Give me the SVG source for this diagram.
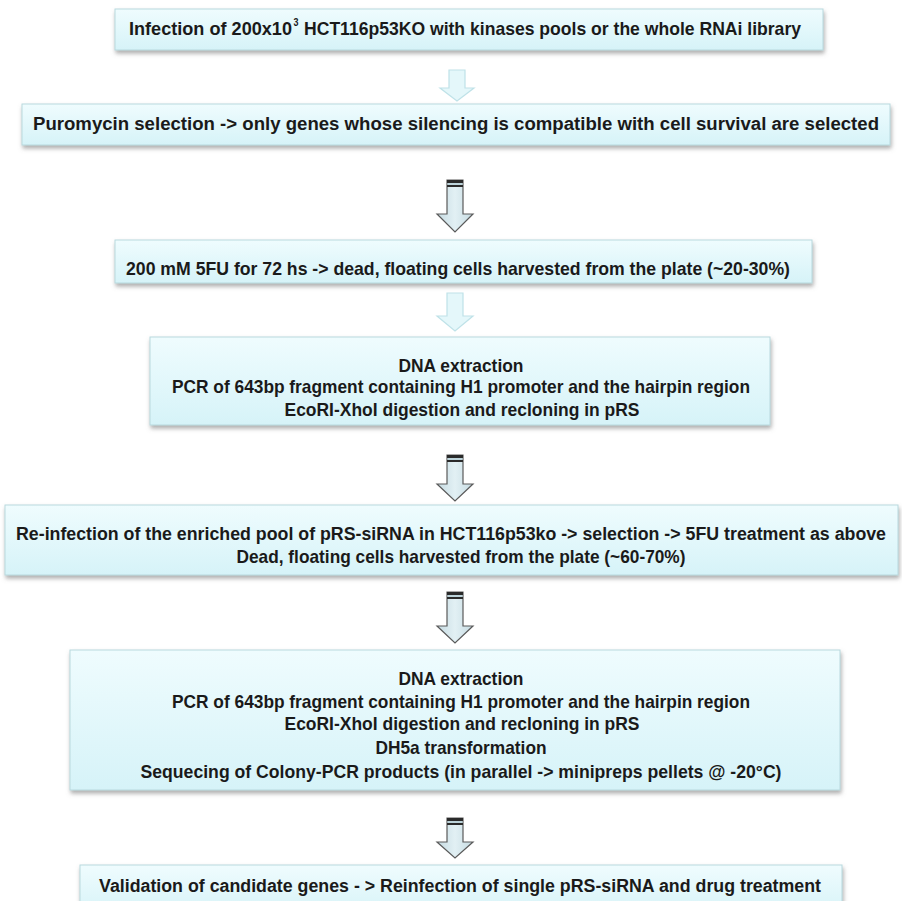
<svg xmlns="http://www.w3.org/2000/svg" width="902" height="901" viewBox="0 0 902 901">
<defs>
<linearGradient id="boxg" x1="0" y1="0" x2="0" y2="1">
<stop offset="0" stop-color="#effcfe"/>
<stop offset="1" stop-color="#d6f3f8"/>
</linearGradient>
<linearGradient id="arrd" x1="0" y1="0" x2="1" y2="0">
<stop offset="0" stop-color="#c6dbe2"/>
<stop offset="0.5" stop-color="#e2f0f4"/>
<stop offset="1" stop-color="#c6dbe2"/>
</linearGradient>
<filter id="sh" x="-5%" y="-20%" width="110%" height="160%">
<feDropShadow dx="1" dy="3" stdDeviation="2" flood-color="#777" flood-opacity="0.6"/>
</filter>
</defs>
<style>
.box{fill:url(#boxg);stroke:#b9d9de;stroke-width:1;filter:url(#sh)}
text{font-family:"Liberation Sans",Arial,sans-serif;font-weight:bold;font-size:19px;fill:#1a1a1a;text-anchor:middle}
text.long{font-size:18px}
text.st{text-anchor:start}
text.sup{font-size:10px;text-anchor:start}
.pale{fill:#e4f7fa;stroke:#bfe2e8;stroke-width:1.2}
.dark{fill:url(#arrd);stroke:#5a5a5a;stroke-width:1.2}
.cap{fill:#2a2a2a}
.capl{fill:#bcd3da}
</style>

<g id="connectors">
<path class="pale" d="M449,70 H465 V88 H474 L457,101 L440,88 H449 Z"/>
<g>
<path class="dark" d="M447,180 H463 V214 H473 L455,232 L437,214 H447 Z"/>
<rect class="cap" x="447" y="180" width="16" height="3"/>
<rect class="capl" x="447.6" y="183" width="14.8" height="2"/>
<rect class="cap" x="447" y="185" width="16" height="2"/>
</g>
<path class="pale" d="M447,293 H463 V316 H473 L455,331 L437,316 H447 Z"/>
<g>
<path class="dark" d="M447,455 H463 V484 H473 L455,501 L437,484 H447 Z"/>
<rect class="cap" x="447" y="455" width="16" height="3"/>
<rect class="capl" x="447.6" y="458" width="14.8" height="2"/>
<rect class="cap" x="447" y="460" width="16" height="2"/>
</g>
<g>
<path class="dark" d="M447,592 H463 V626 H473 L455,643 L437,626 H447 Z"/>
<rect class="cap" x="447" y="592" width="16" height="3"/>
<rect class="capl" x="447.6" y="595" width="14.8" height="2"/>
<rect class="cap" x="447" y="597" width="16" height="2"/>
</g>
<g>
<path class="dark" d="M447,818 H463 V842 H473 L455,858 L437,842 H447 Z"/>
<rect class="cap" x="447" y="818" width="16" height="3"/>
<rect class="capl" x="447.6" y="821" width="14.8" height="2"/>
<rect class="cap" x="447" y="823" width="16" height="2"/>
</g>
</g>

<g id="n1">
<rect class="box" x="115" y="9" width="708" height="41"/>
<text class="st" x="129" y="35" textLength="163" lengthAdjust="spacingAndGlyphs">Infection  of 200x10</text>
<text class="sup" x="293.5" y="26" textLength="5" lengthAdjust="spacingAndGlyphs">3</text>
<text class="st" x="304" y="35" textLength="497" lengthAdjust="spacingAndGlyphs">HCT116p53KO with kinases pools or the whole RNAi library</text>
</g>

<g id="n2">
<rect class="box" x="22" y="104" width="868" height="41"/>
<text class="long" x="456" y="130" textLength="846" lengthAdjust="spacingAndGlyphs">Puromycin selection -&gt; only genes whose silencing is compatible with cell survival are selected</text>
</g>

<g id="n3">
<rect class="box" x="115" y="240" width="697" height="43"/>
<text x="458" y="275" textLength="664" lengthAdjust="spacingAndGlyphs">200 mM 5FU for 72 hs -&gt; dead, floating cells harvested from the plate (~20-30%)</text>
</g>

<g id="n4">
<rect class="box" x="150" y="337" width="620" height="88"/>
<text x="461" y="372" textLength="125" lengthAdjust="spacingAndGlyphs">DNA extraction</text>
<text x="461" y="393" textLength="578" lengthAdjust="spacingAndGlyphs">PCR of 643bp fragment containing H1 promoter and the hairpin region</text>
<text x="462" y="416" textLength="355" lengthAdjust="spacingAndGlyphs">EcoRI-XhoI digestion and recloning in pRS</text>
</g>

<g id="n5">
<rect class="box" x="5" y="505" width="893" height="70"/>
<text class="long" x="451" y="540" textLength="870" lengthAdjust="spacingAndGlyphs">Re-infection of the enriched pool of pRS-siRNA in HCT116p53ko -&gt; selection -&gt; 5FU treatment as above</text>
<text x="461" y="563" textLength="449" lengthAdjust="spacingAndGlyphs">Dead, floating cells harvested from the plate (~60-70%)</text>
</g>

<g id="n6">
<rect class="box" x="70" y="650" width="770" height="140"/>
<text x="461" y="685" textLength="125" lengthAdjust="spacingAndGlyphs">DNA extraction</text>
<text x="461" y="708" textLength="578" lengthAdjust="spacingAndGlyphs">PCR of 643bp fragment containing H1 promoter and the hairpin region</text>
<text x="462" y="730" textLength="355" lengthAdjust="spacingAndGlyphs">EcoRI-XhoI digestion and recloning in pRS</text>
<text x="461" y="754" textLength="171" lengthAdjust="spacingAndGlyphs">DH5a transformation</text>
<text x="461" y="778" textLength="641" lengthAdjust="spacingAndGlyphs">Sequecing of Colony-PCR products (in parallel -&gt; minipreps pellets @ -20°C)</text>
</g>

<g id="n7">
<rect class="box" x="80" y="865" width="762" height="50"/>
<text class="long" x="460" y="892" textLength="722" lengthAdjust="spacingAndGlyphs">Validation of candidate genes - &gt; Reinfection of single pRS-siRNA and drug treatment</text>
</g>
</svg>
